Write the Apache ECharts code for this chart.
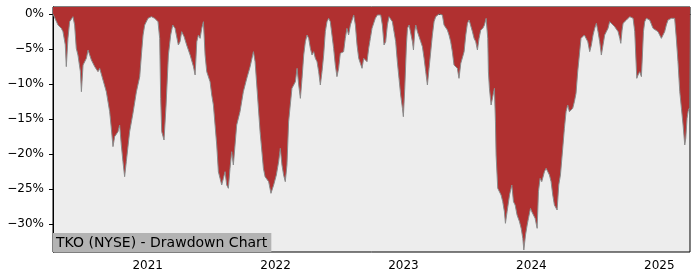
<!DOCTYPE html>
<html>
<head>
<meta charset="utf-8">
<script src="https://cdn.jsdelivr.net/npm/echarts@6/dist/echarts.min.js"></script>
<style>
html,body{margin:0;padding:0;background:#fff;}
#chart{width:700px;height:280px;}
</style>
</head>
<body>
<div id="chart"></div>
<script>
// Dates as decimal years, drawdown in percent
const dates = [
2020.260,2020.273,2020.299,2020.325,2020.338,2020.356,2020.364,2020.377,2020.390,2020.416,
2020.429,2020.442,2020.455,2020.474,2020.482,2020.495,2020.521,2020.534,2020.560,2020.586,
2020.612,2020.625,2020.651,2020.677,2020.703,2020.716,2020.729,2020.742,2020.768,2020.781,
2020.794,2020.807,2020.820,2020.833,2020.859,2020.885,2020.912,2020.938,2020.951,2020.964,
2020.977,2021.003,2021.029,2021.055,2021.081,2021.094,2021.102,2021.110,2021.128,2021.144,
2021.162,2021.180,2021.196,2021.214,2021.240,2021.253,2021.266,2021.285,2021.305,2021.332,
2021.358,2021.371,2021.384,2021.397,2021.410,2021.423,2021.436,2021.449,2021.462,2021.488,
2021.501,2021.514,2021.527,2021.540,2021.553,2021.566,2021.579,2021.592,2021.605,2021.618,
2021.631,2021.644,2021.657,2021.670,2021.683,2021.696,2021.722,2021.748,2021.775,2021.801,
2021.827,2021.840,2021.853,2021.879,2021.905,2021.918,2021.931,2021.946,2021.964,2021.985,
2022.006,2022.024,2022.037,2022.050,2022.063,2022.076,2022.089,2022.102,2022.115,2022.128,
2022.155,2022.168,2022.181,2022.194,2022.207,2022.220,2022.233,2022.246,2022.259,2022.272,
2022.285,2022.298,2022.311,2022.324,2022.337,2022.350,2022.363,2022.376,2022.389,2022.402,
2022.415,2022.428,2022.441,2022.454,2022.467,2022.480,2022.493,2022.506,2022.519,2022.532,
2022.545,2022.558,2022.571,2022.585,2022.598,2022.611,2022.624,2022.637,2022.650,2022.663,
2022.676,2022.689,2022.702,2022.715,2022.728,2022.741,2022.754,2022.767,2022.780,2022.796,
2022.822,2022.835,2022.848,2022.861,2022.874,2022.887,2022.913,2022.926,2022.939,2022.952,
2022.965,2022.978,2022.992,2022.999,2023.010,2023.023,2023.031,2023.044,2023.057,2023.070,
2023.078,2023.088,2023.096,2023.109,2023.135,2023.148,2023.161,2023.174,2023.187,2023.200,
2023.213,2023.226,2023.239,2023.252,2023.278,2023.304,2023.317,2023.343,2023.356,2023.369,
2023.382,2023.395,2023.421,2023.434,2023.448,2023.461,2023.474,2023.487,2023.500,2023.513,
2023.526,2023.539,2023.552,2023.565,2023.578,2023.591,2023.604,2023.620,2023.633,2023.646,
2023.659,2023.664,2023.672,2023.685,2023.698,2023.711,2023.719,2023.724,2023.737,2023.750,
2023.763,2023.776,2023.789,2023.797,2023.810,2023.829,2023.847,2023.860,2023.873,2023.888,
2023.907,2023.920,2023.933,2023.941,2023.954,2023.967,2023.977,2023.993,2024.003,2024.016,
2024.029,2024.045,2024.055,2024.068,2024.081,2024.102,2024.115,2024.128,2024.141,2024.154,
2024.167,2024.180,2024.201,2024.214,2024.227,2024.245,2024.258,2024.271,2024.284,2024.297,
2024.310,2024.323,2024.336,2024.349,2024.362,2024.375,2024.388,2024.401,2024.414,2024.427,
2024.441,2024.456,2024.469,2024.482,2024.495,2024.508,2024.521,2024.534,2024.547,2024.560,
2024.573,2024.586,2024.599,2024.612,2024.625,2024.651,2024.678,2024.691,2024.699,2024.709,
2024.717,2024.743,2024.769,2024.795,2024.808,2024.816,2024.824,2024.834,2024.847,2024.860,
2024.868,2024.876,2024.886,2024.899,2024.925,2024.938,2024.951,2024.964,2024.990,2025.016,
2025.029,2025.042,2025.055,2025.068,2025.094,2025.107,2025.120,2025.133,2025.146,2025.160,
2025.173,2025.186,2025.199,2025.207,2025.217,2025.225,2025.233,2025.240
];
const drawdown = [
0,0,-1.57,-2.05,-2.52,-4.4,-7.52,-3.48,-1.1,-0.38,
-1.57,-4.9,-5.86,-8.2,-11.1,-7.29,-6.33,-5.14,-6.57,-7.52,
-8.24,-7.76,-9.43,-11.1,-13.95,-16.33,-18.95,-17.52,-16.81,-15.86,
-18.71,-21.1,-23.24,-21.1,-16.81,-14.19,-11.1,-8.95,-5.86,-3.0,
-1.57,-0.62,-0.38,-0.62,-1.1,-3.48,-12.05,-16.81,-18.0,-13.0,
-5.86,-3.0,-1.57,-2.05,-4.43,-3.95,-2.52,-3.24,-4.43,-5.86,
-7.52,-8.71,-3.95,-3.0,-3.48,-2.05,-1.1,-5.86,-8.24,-9.67,
-11.57,-13.0,-15.86,-18.71,-22.52,-23.48,-24.43,-23.48,-22.52,-24.43,
-24.9,-22.05,-19.67,-21.57,-18.71,-15.86,-13.95,-11.1,-9.19,-7.52,
-5.38,-6.81,-10.14,-16.81,-22.05,-23.24,-23.48,-23.95,-25.62,-24.43,
-23.0,-21.1,-19.19,-21.57,-23.0,-23.95,-21.57,-15.38,-13.0,-10.62,
-9.67,-7.76,-10.14,-12.05,-9.19,-5.86,-3.95,-3.0,-3.48,-4.9,
-5.86,-5.38,-6.33,-6.81,-8.24,-10.14,-8.24,-5.86,-2.52,-1.1,
-0.62,-1.1,-3.0,-4.9,-7.29,-8.95,-7.76,-5.62,-5.86,-5.38,
-3.48,-2.05,-3.0,-1.57,-0.86,-0.14,-1.57,-4.43,-6.33,-7.05,
-7.76,-6.33,-6.1,-6.81,-4.9,-3.48,-2.05,-1.33,-0.62,-0.14,
-0.14,-1.57,-4.43,-3.95,-1.57,-0.38,-1.1,-2.52,-3.95,-6.81,
-9.19,-11.57,-13.48,-14.67,-10.62,-4.43,-2.05,-1.57,-1.81,-3.95,
-5.14,-2.52,-1.57,-2.52,-3.95,-4.67,-6.33,-8.24,-10.14,-7.76,
-5.38,-3.0,-1.1,-0.38,0,-0.14,-1.57,-2.29,-3.0,-3.95,
-5.38,-7.29,-7.76,-9.19,-7.05,-6.81,-5.38,-3.0,-1.33,-0.86,
-0.62,-2.52,-3.48,-3.95,-5.14,-3.48,-2.29,-2.05,-1.57,-0.62,
-3.48,-8.24,-10.62,-13.0,-13.0,-10.62,-15.38,-20.14,-24.9,-24.67,
-25.86,-26.81,-28.24,-29.9,-28.24,-25.86,-24.43,-26.81,-27.29,-28.71,
-29.67,-30.62,-32.05,-33.71,-31.57,-30.14,-29.19,-27.76,-28.24,-28.0,
-29.19,-30.62,-25.38,-23.48,-23.95,-22.52,-22.05,-22.52,-23.0,-23.95,
-25.86,-27.29,-28.0,-24.43,-23.0,-19.19,-16.33,-13.95,-13.0,-13.95,
-14.19,-13.48,-12.52,-11.33,-8.24,-5.86,-3.48,-3.24,-3.0,-3.24,
-3.95,-5.38,-4.43,-3.0,-2.05,-1.33,-2.52,-3.95,-5.86,-4.43,
-3.0,-2.52,-2.05,-1.1,-1.33,-1.81,-2.52,-3.48,-4.19,-2.29,
-1.33,-0.86,-0.38,-0.62,-2.52,-5.86,-9.19,-8.71,-8.24,-8.95,
-5.86,-2.52,-1.1,-0.62,-0.86,-1.1,-2.05,-1.81,-2.52,-3.48,
-3.24,-2.52,-1.57,-0.86,-0.62,-0.38,-0.62,-3.48,-6.81,-11.1,
-13.48,-15.86,-18.71,-17.76,-14.9,-13.95,-13.48,-13.5
];
const yearTicks = [2021, 2022, 2023, 2024, 2025];
const pctTicks = [0, -5, -10, -15, -20, -25, -30];
const titleText = 'TKO (NYSE) - Drawdown Chart';

const seriesData = dates.map((d, i) => [d, drawdown[i]]);
const fmtPct = v => (v < 0 ? '\u2212' : '') + Math.abs(v) + '%';
const FONT = 'DejaVu Sans';

const chart = echarts.init(document.getElementById('chart'), null, {renderer: 'canvas'});
chart.setOption({
  animation: false,
  backgroundColor: '#ffffff',
  title: {
    text: titleText,
    left: 53,
    top: 233,
    padding: [2, 4, 1, 3],
    backgroundColor: '#b3b3b3',
    textStyle: {fontFamily: FONT, fontSize: 14, fontWeight: 'normal', color: '#000', lineHeight: 16}
  },
  grid: {
    left: 53, right: 10, top: 7, bottom: 28,
    show: true, backgroundColor: '#ededed', borderColor: '#000', borderWidth: 1
  },
  xAxis: {
    type: 'value',
    min: dates[0],
    max: dates[dates.length - 1],
    splitLine: {show: false},
    axisLine: {show: true, lineStyle: {color: '#000'}},
    axisTick: {show: true, length: 4, customValues: yearTicks, lineStyle: {color: '#000'}},
    axisLabel: {
      customValues: yearTicks, margin: 8,
      fontFamily: FONT, fontSize: 12, color: '#000',
      formatter: v => String(Math.round(v))
    }
  },
  yAxis: {
    type: 'value',
    min: -34,
    max: 1,
    splitLine: {show: false},
    axisLine: {show: true, lineStyle: {color: '#000'}},
    axisTick: {show: true, length: 4, customValues: pctTicks, lineStyle: {color: '#000'}},
    axisLabel: {
      customValues: pctTicks, margin: 9,
      fontFamily: FONT, fontSize: 12, color: '#000',
      formatter: fmtPct
    }
  },
  series: [{
    type: 'line',
    data: seriesData,
    showSymbol: false,
    symbol: 'none',
    lineStyle: {color: '#8a8a8a', width: 1},
    areaStyle: {color: '#b03030', opacity: 1, origin: 'end'},
    z: 2
  }]
});
</script>
</body>
</html>
